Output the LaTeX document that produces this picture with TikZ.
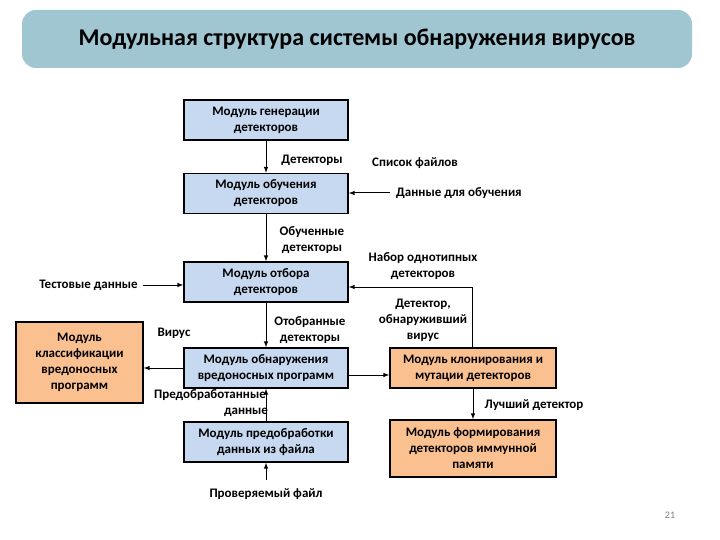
\documentclass[tikz,border=0pt]{standalone}
\usepackage{fontspec}
\setmainfont{Carlito}
\begin{document}
\begin{tikzpicture}[x=1pt,y=-1pt,
 box/.style={draw=black,line width=1.5pt,minimum height=40pt,minimum width=164pt,align=center,font=\fontsize{13}{16}\selectfont\bfseries,inner sep=1pt},
 blue/.style={box,fill={rgb,255:red,198;green,217;blue,240}},
 orng/.style={box,fill={rgb,255:red,250;green,192;blue,144}},
 lbl/.style={align=center,font=\fontsize{13}{16}\selectfont\bfseries,inner sep=1pt},
 arr/.style={-latex,line width=1pt}]
\useasboundingbox (0,0) rectangle (720,540);
\node[fill={rgb,255:red,160;green,198;blue,210},rounded corners=14pt,minimum width=670pt,minimum height=58pt,font=\fontsize{24}{28}\selectfont\bfseries] (title) at (357,39) {Модульная структура системы обнаружения вирусов};
\node[blue] (gen) at (266,120) {Модуль генерации\\детекторов};
\node[blue] (obuch) at (266,193.5) {Модуль обучения\\детекторов};
\node[blue] (otbor) at (266,282) {Модуль отбора\\детекторов};
\node[blue] (det) at (266,368) {Модуль обнаружения\\вредоносных программ};
\node[blue] (pre) at (266,442) {Модуль предобработки\\данных из файла};
\node[orng,minimum width=127pt,minimum height=81pt] (cls) at (79.5,362.5) {Модуль\\классификации\\вредоносных\\программ};
\node[orng,minimum width=166pt] (clone) at (473,368) {Модуль клонирования и\\мутации детекторов};
\node[orng,minimum width=166pt,minimum height=57pt] (form) at (473,448.5) {Модуль формирования\\детекторов иммунной\\памяти};
\node[lbl] (l1) at (312,160) {Детекторы};
\node[lbl] (l2) at (415,163) {Список файлов};
\node[lbl,anchor=west] (l3) at (395,193) {Данные для обучения};
\node[lbl] (l4) at (312,240) {Обученные\\детекторы};
\node[lbl] (l5) at (423,266) {Набор однотипных\\детекторов};
\node[lbl,anchor=east] (l6) at (139,285) {Тестовые данные};
\node[lbl] (l7) at (310,330) {Отобранные\\детекторы};
\node[lbl] (l8) at (423,320) {Детектор,\\обнаруживший\\вирус};
\node[lbl] (l9) at (174,333) {Вирус};
\node[lbl] (l10) at (210,395) {Предобработанные};
\node[lbl] (l11) at (246,412) {данные};
\node[lbl] (l12) at (266,494) {Проверяемый файл};
\node[lbl] (l13) at (534,405) {Лучший детектор};
\node[font=\fontsize{10}{12}\selectfont,text=gray] (pg) at (670,515) {21};
\coordinate (a1) at (390,193);
\coordinate (a2) at (143,285);
\coordinate (a3) at (266,480);
\coordinate (c1) at (472,287);
\draw[arr] (gen) -- (obuch);
\draw[arr] (obuch) -- (otbor);
\draw[arr] (otbor) -- (det);
\draw[arr] (pre) -- (det);
\draw[arr] (a3) -- (pre);
\draw[arr] (a1) -- (obuch.east|-a1);
\draw[arr] (a2) -- (otbor.west|-a2);
\draw[arr] (clone.north-|c1) -- (c1) -- (otbor.east|-c1);
\draw[arr] (det.west) -- (cls.east|-det.west);
\draw[arr] (det.east|-0,375) -- (clone.west|-0,375);
\draw[arr] (clone) -- (form);
\end{tikzpicture}
\end{document}
